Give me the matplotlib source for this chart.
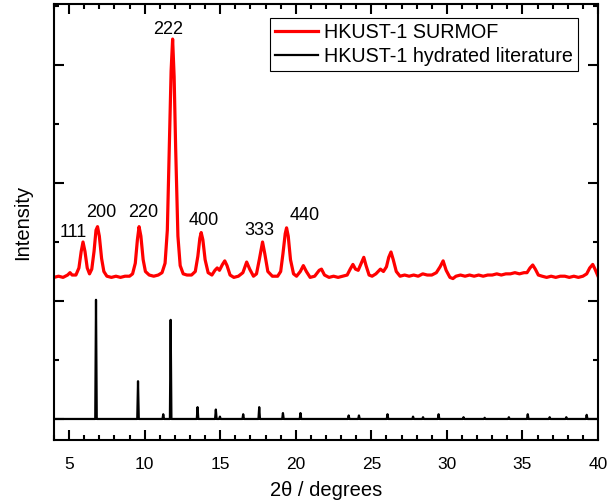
import numpy as np
import matplotlib as mpl
mpl.use('Agg')
mpl.rcParams['font.family'] = 'Liberation Sans'
mpl.rcParams['font.size'] = 13
import matplotlib.pyplot as plt
from matplotlib.ticker import MultipleLocator, NullFormatter

# XRD patterns: 2theta (deg) vs. normalised intensity (arb. units, offset)

# HKUST-1 SURMOF
surmof_2th = [4.0, 4.3, 4.6, 4.9, 5.06, 5.2, 5.45, 5.65, 5.8, 5.92, 6.05, 6.2,
              6.35, 6.5, 6.65, 6.78, 6.88, 7.0, 7.15, 7.3, 7.5, 7.8, 8.1, 8.4,
              8.7, 9.0, 9.2, 9.38, 9.52, 9.63, 9.75, 9.9, 10.05, 10.3, 10.6,
              10.9, 11.15, 11.35, 11.5, 11.65, 11.75, 11.85, 11.95, 12.05,
              12.2, 12.35, 12.55, 12.8, 13.1, 13.35, 13.52, 13.65, 13.74,
              13.85, 14.0, 14.2, 14.45, 14.65, 14.8, 14.95, 15.15, 15.3,
              15.45, 15.65, 15.9, 16.2, 16.5, 16.75, 16.95, 17.2, 17.4, 17.6,
              17.8, 17.95, 18.15, 18.45, 18.8, 19.0, 19.15, 19.3, 19.39, 19.5,
              19.65, 19.85, 20.05, 20.3, 20.5, 20.7, 20.95, 21.25, 21.55,
              21.7, 21.9, 22.2, 22.5, 22.8, 23.1, 23.4, 23.6, 23.78, 23.95,
              24.13, 24.3, 24.5, 24.65, 24.85, 25.05, 25.3, 25.6, 25.8, 26.0,
              26.15, 26.3, 26.45, 26.65, 26.9, 27.2, 27.5, 27.8, 28.1, 28.4,
              28.7, 29.0, 29.3, 29.55, 29.75, 29.95, 30.2, 30.4, 30.6, 30.9,
              31.2, 31.5, 31.8, 32.1, 32.4, 32.7, 33.0, 33.3, 33.6, 33.9,
              34.2, 34.5, 34.8, 35.1, 35.3, 35.5, 35.68, 35.85, 36.05, 36.3,
              36.6, 36.9, 37.2, 37.5, 37.8, 38.1, 38.4, 38.7, 39.0, 39.25,
              39.45, 39.65, 39.8, 40.0]
surmof_int = [1.20, 1.21, 1.20, 1.22, 1.24, 1.22, 1.22, 1.28, 1.42, 1.50, 1.42,
              1.28, 1.23, 1.27, 1.42, 1.60, 1.63, 1.55, 1.36, 1.25, 1.21, 1.20,
              1.21, 1.20, 1.21, 1.21, 1.23, 1.32, 1.52, 1.63, 1.55, 1.35, 1.25,
              1.22, 1.21, 1.22, 1.24, 1.32, 1.60, 2.40, 2.95, 3.22, 2.90, 2.30,
              1.55, 1.30, 1.23, 1.22, 1.22, 1.25, 1.38, 1.53, 1.58, 1.52, 1.35,
              1.24, 1.22, 1.26, 1.28, 1.26, 1.31, 1.34, 1.30, 1.22, 1.20, 1.21,
              1.24, 1.33, 1.27, 1.21, 1.23, 1.36, 1.50, 1.40, 1.25, 1.21, 1.21,
              1.25, 1.40, 1.57, 1.62, 1.55, 1.35, 1.23, 1.21, 1.25, 1.30, 1.25,
              1.20, 1.21, 1.26, 1.27, 1.22, 1.20, 1.21, 1.20, 1.21, 1.22, 1.27,
              1.31, 1.27, 1.26, 1.31, 1.37, 1.30, 1.22, 1.21, 1.23, 1.27, 1.25,
              1.29, 1.37, 1.415, 1.35, 1.25, 1.21, 1.22, 1.21, 1.22, 1.21, 1.23,
              1.22, 1.22, 1.24, 1.29, 1.34, 1.26, 1.20, 1.19, 1.21, 1.22, 1.21,
              1.22, 1.21, 1.22, 1.21, 1.22, 1.22, 1.23, 1.22, 1.23, 1.23, 1.24,
              1.23, 1.24, 1.24, 1.28, 1.305, 1.27, 1.22, 1.21, 1.20, 1.21, 1.20,
              1.21, 1.21, 1.20, 1.21, 1.20, 1.21, 1.23, 1.28, 1.31, 1.27, 1.21]

# HKUST-1 hydrated, literature reflections
lit_2th = [6.78, 9.56, 11.23, 11.72, 13.5, 14.71, 14.98, 16.52, 17.58, 19.15,
           20.31, 23.5, 24.18, 26.07, 27.76, 28.42, 29.45, 31.1, 32.5, 34.1,
           35.35, 36.8, 37.9, 39.25]
lit_int = [1.01, 0.32, 0.04, 0.84, 0.10, 0.08, 0.02, 0.04, 0.10, 0.05, 0.05,
           0.03, 0.03, 0.04, 0.02, 0.015, 0.04, 0.015, 0.01, 0.015, 0.04, 0.015,
           0.015, 0.035]

# Miller indices of the SURMOF reflections and where the labels sit
hkl_labels = ['111', '200', '220', '222', '400', '333', '440']
hkl_2th = [5.3, 7.11, 9.91, 11.54, 13.92, 17.59, 20.6]
hkl_int = [1.58, 1.754, 1.754, 3.305, 1.68, 1.60, 1.725]


def stick_pattern(pos, height, xmin=4.0, xmax=40.0, half=0.05):

    """Turn a reflection list into a narrow-peak polyline on a flat baseline."""

    xs, ys = [xmin], [0.0]
    for p, h in zip(pos, height):
        xs += [p - half, p, p + half]
        ys += [0.0, h, 0.0]
    xs.append(xmax)
    ys.append(0.0)
    return np.array(xs), np.array(ys)


def plot_xrd():

    fig = plt.figure(figsize=(6.08, 5.01), dpi=100)
    ax = fig.add_axes([0.0888, 0.1218, 0.8948, 0.8702])

    ax.plot(surmof_2th, surmof_int, color='#ff0000', lw=2.3,
            label='HKUST-1 SURMOF')
    lx, ly = stick_pattern(lit_2th, lit_int)
    ax.plot(lx, ly, color='k', lw=1.6, label='HKUST-1 hydrated literature')

    for t, x, y in zip(hkl_labels, hkl_2th, hkl_int):
        ax.text(x, y, t, ha='center', va='center', fontsize=13)

    ax.set_xlim(4, 40)
    ax.set_ylim(-0.178, 3.517)

    ax.xaxis.set_major_locator(MultipleLocator(5))
    ax.xaxis.set_minor_locator(MultipleLocator(1))
    ax.yaxis.set_major_locator(MultipleLocator(1))
    ax.yaxis.set_minor_locator(MultipleLocator(0.5))
    ax.yaxis.set_major_formatter(NullFormatter())

    ax.tick_params('both', which='major', direction='in', length=7, width=1.5,
                   top=True, right=True, labelsize=12.5, pad=6)
    ax.tick_params('both', which='minor', direction='in', length=3.5, width=1.5,
                   top=True, right=True)
    ax.tick_params('x', which='major', pad=12)
    for s in ax.spines.values():
        s.set_linewidth(1.5)

    ax.set_xlabel('2\u03b8 / degrees', fontsize=14.5, labelpad=7)
    ax.set_ylabel('Intensity', fontsize=14.5, labelpad=10)

    leg = ax.legend(loc='upper right', bbox_to_anchor=(0.9627, 0.967),
                    borderaxespad=0, fontsize=14.2, handlelength=2.2,
                    handletextpad=0.3, labelspacing=0.25, borderpad=0.25,
                    fancybox=False, framealpha=1.0, edgecolor='k')
    leg.get_frame().set_linewidth(0.8)

    plt.savefig('out.png', dpi=100)


plot_xrd()
